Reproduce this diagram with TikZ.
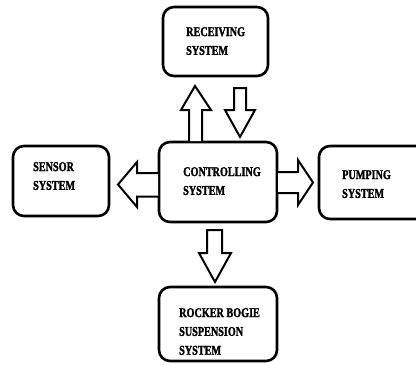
\documentclass[tikz,border=0pt]{standalone}
\usepackage{fontspec}
\newfontfamily\condbf{Liberation Serif Bold}[FakeStretch=0.76,FakeBold=1.6]
\begin{document}
\begin{tikzpicture}[x=1pt,y=-1pt,
  sysbox/.style={draw=black,line width=2.6pt,rounded corners=11pt},
  blockarrow/.style={draw=black,line width=2pt,fill=white,line join=miter},
  lbl/.style={anchor=north west,inner sep=0pt,align=left,text=black,
    font=\fontsize{13.4}{18.8}\selectfont\condbf}]
\useasboundingbox (0,0) rectangle (416,365);
\clip (0,0) rectangle (416,365);
% boxes
\draw[sysbox] (163,7) rectangle (268,76);
\draw[sysbox] (13,146) rectangle (109,216);
\draw[sysbox] (159,142) rectangle (277,222);
\draw[sysbox] (319,146) rectangle (430,219);
\draw[sysbox] (159,287) rectangle (277,361);
% texts
\node[lbl] (recvT) at (186,27) {RECEIVING\\SYSTEM};
\node[lbl] (sensT) at (33,162) {SENSOR\\SYSTEM};
\node[lbl] (ctrlT) at (183,167) {CONTROLLING\\SYSTEM};
\node[lbl] (pumpT) at (342,170) {PUMPING\\SYSTEM};
\node[lbl] (rockT) at (179,308) {ROCKER BOGIE\\SUSPENSION\\SYSTEM};
% arrows
\draw[blockarrow] (189,141) -- (189,110) -- (181,110) -- (195,86) -- (211,110) -- (202,110) -- (202,141);
\draw[blockarrow] (234,88) -- (246,88) -- (246,110) -- (255,110) -- (240,137) -- (225,110) -- (234,110) -- cycle;
\draw[blockarrow] (158,173) -- (137,173) -- (137,162) -- (118,184.5) -- (137,207) -- (137,196.5) -- (158,196.5);
\draw[blockarrow] (278,172) -- (298,172) -- (298,160) -- (313,182.5) -- (298,205) -- (298,193) -- (278,193);
\draw[blockarrow] (207,230) -- (222,230) -- (222,253) -- (231,253) -- (215,282) -- (199,253) -- (207,253) -- cycle;
\end{tikzpicture}
\end{document}
